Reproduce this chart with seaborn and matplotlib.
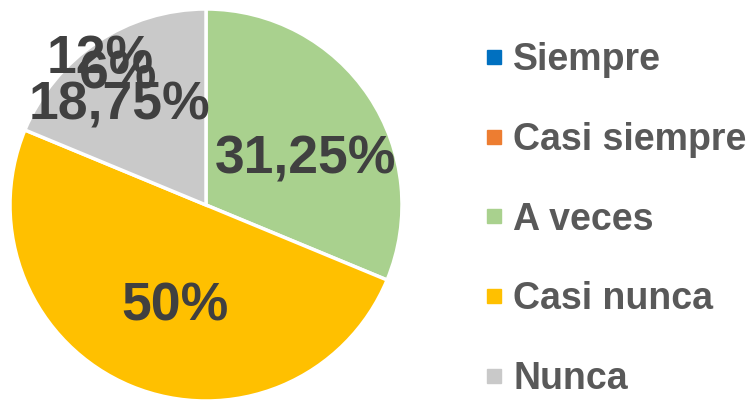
import seaborn as sns
import matplotlib.pyplot as plt
from matplotlib.lines import Line2D

# data
categorias = ['Siempre', 'Casi siempre', 'A veces', 'Casi nunca', 'Nunca']
valores = [0, 0, 31.25, 50, 18.75]
etiquetas = ['12%', '6%', '31,25%', '50%', '18,75%']
colores = ['#0070C0', '#ED7D31', '#A9D18E', '#FFC000', '#C9C9C9']

# where each percentage label sits (pie units, radius = 1)
pos_x = [-0.541, -0.449, 0.51, -0.158, -0.44]
pos_y = [0.74, 0.665, 0.23, -0.52, 0.51]

sns.set_theme(style='white')
plt.rcParams['font.family'] = ['Liberation Sans', 'DejaVu Sans']
paleta = sns.color_palette(colores)

fig = plt.figure(figsize=(7.46, 4.0), dpi=100)
ax = fig.add_axes([10 / 746, -1 / 400, 392 / 746, 392 / 400])

wedges, _ = ax.pie(valores, colors=paleta, startangle=90, counterclock=False,
                   wedgeprops=dict(edgecolor='white', linewidth=2.5))
ax.set_xlim(-1, 1)
ax.set_ylim(-1, 1)
ax.set_aspect('equal')

for x, y, txt in zip(pos_x, pos_y, etiquetas):
    ax.text(x, y, txt, ha='center', va='center', fontsize=38.5,
            fontweight='bold', color='#404040')

handles = [Line2D([0], [0], marker='s', linestyle='', markersize=10,
                  markerfacecolor=c, markeredgecolor=c) for c in paleta]
leg = fig.legend(handles, categorias, loc='upper left',
                 bbox_to_anchor=(464 / 746, 1 - 23 / 400), frameon=False,
                 prop=dict(size=27, weight='bold'), labelspacing=1.17,
                 handlelength=0.6, handletextpad=0.21, borderpad=0)
for t in leg.get_texts():
    t.set_color('#595959')

fig.savefig('out.png', dpi=100)
